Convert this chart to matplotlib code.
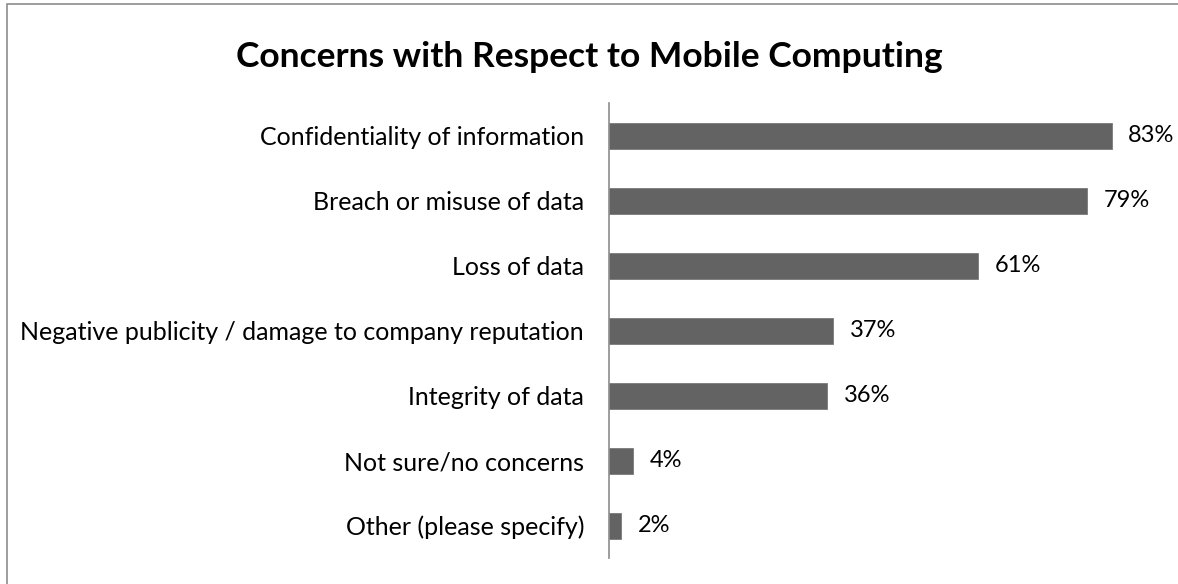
import matplotlib.pyplot as plt
from matplotlib.patches import Rectangle

categories = [
    "Confidentiality of information",
    "Breach or misuse of data",
    "Loss of data",
    "Negative publicity / damage to company reputation",
    "Integrity of data",
    "Not sure/no concerns",
    "Other (please specify)",
]
percent = [83, 79, 61, 37, 36, 4, 2]

plt.rcParams['font.family'] = ['Lato', 'DejaVu Sans']

fig = plt.figure(figsize=(11.78, 5.84), dpi=100)
ax = fig.add_axes([609 / 1178, 1 - 558 / 584, 545 / 1178, 455 / 584])

# thin grey chart-area frame
fig.patches.append(Rectangle((7 / 1178, -0.1), 1.2, 1 - 4 / 584 + 0.1,
                             transform=fig.transFigure, fill=False,
                             edgecolor='#8c8c8c', linewidth=1.2))

y = range(len(categories))
bars = ax.barh(y, percent, height=0.4, color='#636363', edgecolor='#7a7a7a', linewidth=0.6)
ax.set_xlim(0, 90)
ax.set_ylim(len(categories) - 0.5, -0.5)

for bar, v in zip(bars, percent):
    ax.annotate(f"{v}%", (bar.get_width(), bar.get_y() + bar.get_height() / 2),
                xytext=(12, 0), textcoords='offset points', ha='left', va='center',
                fontsize=17, color='black')

ax.set_yticks(list(y))
ax.set_yticklabels(categories, fontsize=18)
ax.tick_params(axis='y', length=0, pad=18)
ax.set_xticks([])
for side in ['top', 'right', 'bottom']:
    ax.spines[side].set_visible(False)
ax.spines['left'].set_color('#8c8c8c')
ax.spines['left'].set_linewidth(1.2)

fig.text(0.5, 1 - 57 / 584, "Concerns with Respect to Mobile Computing",
         ha='center', va='center', fontsize=25.5, fontweight='bold')

fig.savefig("out.png", dpi=100)
